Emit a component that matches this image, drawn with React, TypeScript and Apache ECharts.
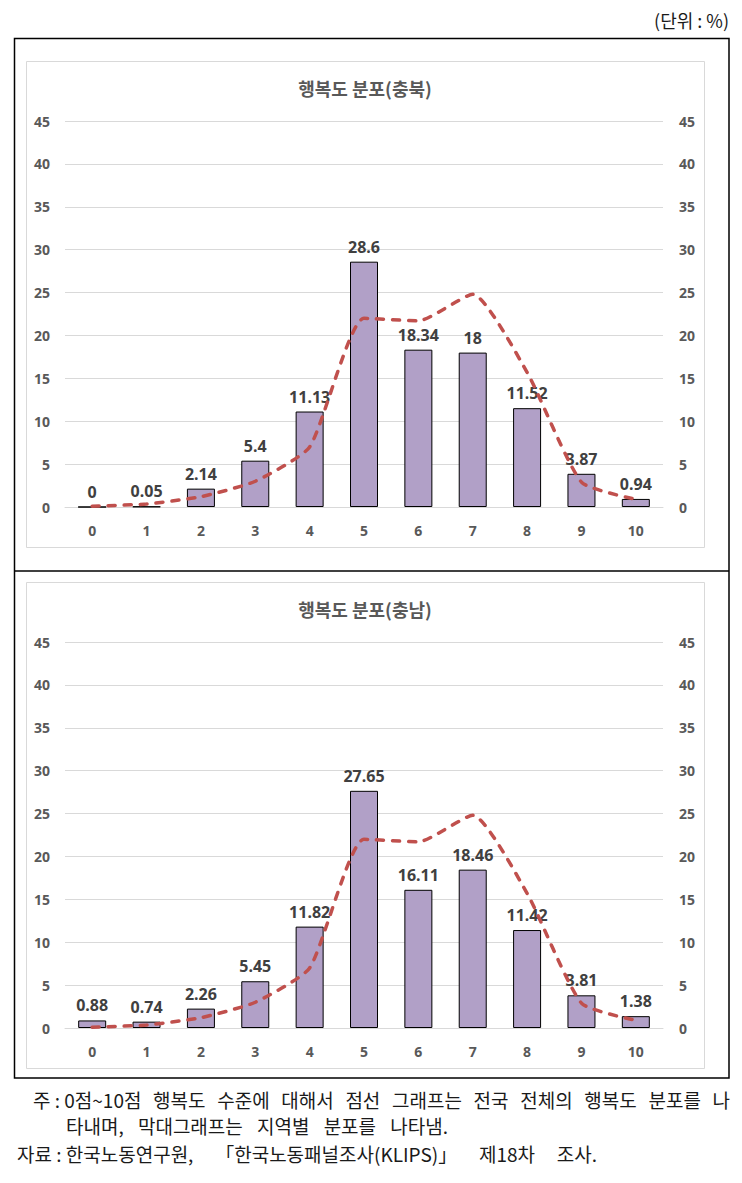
import React, { useEffect, useRef } from "react";
import * as echarts from "echarts";

const categories = ["0", "1", "2", "3", "4", "5", "6", "7", "8", "9", "10"];
const chungbukValues = [0, 0.05, 2.14, 5.4, 11.13, 28.6, 18.34, 18, 11.52, 3.87, 0.94];
const chungnamValues = [0.88, 0.74, 2.26, 5.45, 11.82, 27.65, 16.11, 18.46, 11.42, 3.81, 1.38];
const nationalValues = [0.1, 0.35, 1.2, 3.0, 7.0, 22.0, 21.7, 24.8, 15.7, 2.9, 0.9];
const titles = ["행복도 분포(충북)", "행복도 분포(충남)"];
const unitText = "(단위 : %)";
const noteLines = [
  "주 : 0점~10점 행복도 수준에 대해서 점선 그래프는 전국 전체의 행복도 분포를 나",
  "타내며, 막대그래프는 지역별 분포를 나타냄.",
  "자료 : 한국노동연구원, 「한국노동패널조사(KLIPS)」 제18차 조사.",
];

const NUM_FONT = "'Noto Sans', 'Noto Sans CJK KR', sans-serif";
const KR_FONT = "'Noto Sans CJK KR', 'Noto Sans', sans-serif";
const NOTE_SIZE = 19;

function justifyLine(text: string, x0: number, x1: number, y: number, size: number) {
  const words = text.split(/(?<!:) (?!:)/);
  const canvas = document.createElement("canvas");
  const ctx = canvas.getContext("2d")!;
  const font = `${size}px 'Noto Sans CJK KR'`;
  ctx.font = font;
  const widths = words.map((w) => ctx.measureText(w).width);
  const total = widths.reduce((a, b) => a + b, 0);
  const gap = words.length > 1 ? Math.max(4, (x1 - x0 - total) / (words.length - 1)) : 0;
  const out: any[] = [];
  let x = x0;
  words.forEach((w, i) => {
    out.push({
      type: "text",
      x,
      y,
      style: { text: w, font, fill: "#1a1a1a", textVerticalAlign: "middle", textAlign: "left" },
    });
    x += widths[i] + gap;
  });
  return out;
}

export default function App() {
  const ref = useRef<HTMLDivElement>(null);
  useEffect(() => {
    if (!ref.current) return;
    const chart = echarts.init(ref.current, undefined, { renderer: "svg" });
    const grids = [
      { left: 65, width: 598, top: 121, height: 386 },
      { left: 65, width: 598, top: 642, height: 386 },
    ];
    const barData = [chungbukValues, chungnamValues];
    const axisLabel = {
      color: "#595959",
      fontWeight: "bold" as const,
      fontSize: 14,
      fontFamily: NUM_FONT,
    };
    const xAxis = grids.map((_, i) => ({
      type: "category" as const,
      gridIndex: i,
      data: categories,
      axisLine: { lineStyle: { color: "#D9D9D9", width: 1 } },
      axisTick: { show: false },
      axisLabel: { ...axisLabel, margin: 16 },
    }));
    const yAxis: any[] = [];
    grids.forEach((_, i) => {
      yAxis.push({
        type: "value",
        gridIndex: i,
        position: "left",
        min: 0,
        max: 45,
        interval: 5,
        axisLine: { show: false },
        axisTick: { show: false },
        splitLine: { lineStyle: { color: "#D9D9D9", width: 1 } },
        axisLabel: { ...axisLabel, margin: 15 },
      });
      yAxis.push({
        type: "value",
        gridIndex: i,
        position: "right",
        min: 0,
        max: 45,
        interval: 5,
        axisLine: { show: false },
        axisTick: { show: false },
        splitLine: { show: false },
        axisLabel: { ...axisLabel, margin: 16 },
      });
    });
    const series: any[] = [];
    grids.forEach((_, i) => {
      series.push({
        type: "bar",
        xAxisIndex: i,
        yAxisIndex: i * 2,
        data: barData[i],
        barWidth: 28,
        itemStyle: { color: "#B1A0C7", borderColor: "#000000", borderWidth: 1 },
        label: {
          show: true,
          position: "top",
          distance: 7,
          color: "#404040",
          fontWeight: "bold",
          fontSize: 16,
          fontFamily: NUM_FONT,
        },
        z: 2,
      });
      series.push({
        type: "line",
        xAxisIndex: i,
        yAxisIndex: i * 2 + 1,
        data: nationalValues,
        smooth: 0.18,
        symbol: "none",
        lineStyle: { color: "#C0504D", width: 3.5, type: [7, 9], cap: "round" },
        z: 3,
      });
    });

    const graphic: any[] = [
      {
        type: "text",
        x: 729,
        y: 20,
        style: {
          text: unitText,
          font: `18px ${KR_FONT}`,
          fill: "#1a1a1a",
          textAlign: "right",
          textVerticalAlign: "middle",
        },
      },
      {
        type: "rect",
        shape: { x: 14.5, y: 38.5, width: 714.5, height: 1039.5 },
        style: { fill: "none", stroke: "#000", lineWidth: 1.5 },
        z: 0,
      },
      {
        type: "line",
        shape: { x1: 14, y1: 571, x2: 729, y2: 571 },
        style: { stroke: "#000", lineWidth: 1.5 },
      },
      {
        type: "rect",
        shape: { x: 26.5, y: 61.5, width: 678, height: 486 },
        style: { fill: "none", stroke: "#D9D9D9", lineWidth: 1 },
      },
      {
        type: "rect",
        shape: { x: 26.5, y: 582.5, width: 678, height: 486 },
        style: { fill: "none", stroke: "#D9D9D9", lineWidth: 1 },
      },
      {
        type: "text",
        x: 365,
        y: 88,
        style: {
          text: titles[0],
          font: `bold 18px ${KR_FONT}`,
          fill: "#595959",
          textAlign: "center",
          textVerticalAlign: "middle",
        },
      },
      {
        type: "text",
        x: 365,
        y: 609,
        style: {
          text: titles[1],
          font: `bold 18px ${KR_FONT}`,
          fill: "#595959",
          textAlign: "center",
          textVerticalAlign: "middle",
        },
      },
      ...justifyLine(noteLines[0], 33, 730, 1099, NOTE_SIZE),
      ...justifyLine(noteLines[1], 66, 448, 1125, NOTE_SIZE),
      ...justifyLine(noteLines[2], 17, 597, 1153, NOTE_SIZE),
    ];

    chart.setOption({
      animation: false,
      backgroundColor: "#ffffff",
      grid: grids,
      xAxis,
      yAxis,
      series,
      graphic,
    });
    return () => chart.dispose();
  }, []);
  return (
    <div
      ref={ref}
      style={{ position: "absolute", left: 0, top: 0, width: 742, height: 1183 }}
    />
  );
}
